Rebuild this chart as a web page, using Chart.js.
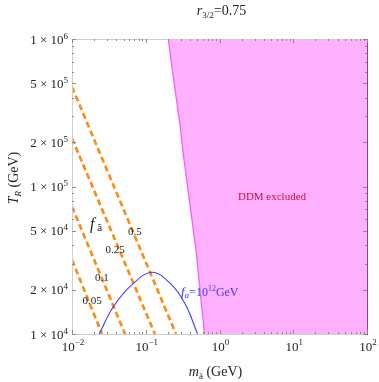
<!DOCTYPE html>
<html>
<head>
<meta charset="utf-8">
<script src="https://cdn.jsdelivr.net/npm/chart.js@4/dist/chart.umd.min.js"></script>
<style>
html,body{margin:0;padding:0;background:#fff;}
#wrap{width:379px;height:382px;}
</style>
</head>
<body>
<div id="wrap"><canvas id="c" width="379" height="382"></canvas></div>
<script>
// ---- data ----
const xTickValues = [0.01, 0.1, 1, 10, 100];
const xTickExps = ['−2', '−1', '0', '1', '2'];
const yTickValues = [1e4, 2e4, 5e4, 1e5, 2e5, 5e5, 1e6];
const yTickMant = ['1', '2', '5', '1', '2', '5', '1'];
const yTickExps = ['4', '4', '4', '5', '5', '5', '6'];

// f_a fraction lines (straight in log-log): T at m=0.01 and m where T=1e4
const fracLabels = ['0.05', '0.1', '0.25', '0.5'];
const fracStartM = [0.01, 0.01, 0.01, 0.01];
const fracStartT = [3.18e4, 7.3e4, 2.12e5, 4.73e5];
const fracEndM = [0.0255, 0.0524, 0.133, 0.257];
const fracEndT = [1e4, 1e4, 1e4, 1e4];

// f_a = 10^12 GeV curve
const axionM = [0.0234, 0.0363, 0.0646, 0.1205, 0.213, 0.340, 0.50];
const axionT = [1.0e4, 1.53e4, 2.15e4, 2.62e4, 2.21e4, 1.61e4, 1.01e4];

// DDM excluded boundary
const ddmM = [0.2023, 0.2198, 0.2978, 0.317, 0.480, 0.626];
const ddmT = [1e6, 7.21e5, 2.41e5, 1.77e5, 3.71e4, 1e4];
const ddmRightM = 100;

// ---- build datasets ----
const SERIF = '"Liberation Serif", "Times New Roman", serif';
const ORANGE = '#ff8a12';
const datasets = [];

// magenta fill region (fill to top of plot)
const fillPts = ddmM.map((m, i) => ({x: m, y: ddmT[i]}));
fillPts.push({x: ddmRightM, y: ddmT[ddmT.length - 1]});
datasets.push({
  data: fillPts, showLine: true, fill: 'end', backgroundColor: 'rgb(255,176,255)',
  borderWidth: 0, borderColor: 'rgba(0,0,0,0)', pointRadius: 0, tension: 0, clip: 0, order: 5
});
datasets.push({
  data: ddmM.map((m, i) => ({x: m, y: ddmT[i]})), showLine: true, fill: false,
  borderColor: 'rgb(255,90,255)', borderWidth: 1.3, pointRadius: 0, tension: 0, clip: 0, order: 4
});
fracLabels.forEach((lab, i) => {
  datasets.push({
    data: [{x: fracStartM[i], y: fracStartT[i]}, {x: fracEndM[i], y: fracEndT[i]}],
    showLine: true, fill: false, borderColor: ORANGE, borderWidth: 2.6,
    borderDash: [6, 3.5], pointRadius: 0, clip: 0, order: 2
  });
});
datasets.push({
  data: axionM.map((m, i) => ({x: m, y: axionT[i]})), showLine: true, fill: false,
  borderColor: '#3b3bff', borderWidth: 1.1, pointRadius: 0, tension: 0.4,
  cubicInterpolationMode: 'default', clip: 0, order: 1
});

function runs(ctx, x, y, parts, align) {
  let w = 0;
  parts.forEach(p => { ctx.font = p.f; p.w = ctx.measureText(p.t).width; w += p.w; });
  let cx = align === 'right' ? x - w : align === 'center' ? x - w / 2 : x;
  parts.forEach(p => {
    ctx.font = p.f; if (p.c) ctx.fillStyle = p.c;
    ctx.fillText(p.t, cx, y + (p.dy || 0)); cx += p.w;
  });
  return w;
}

const decor = {
  id: 'decor',
  afterDatasetsDraw(chart) {
    const ctx = chart.ctx, a = chart.chartArea;
    const xs = chart.scales.x, ys = chart.scales.y;
    ctx.save();
    // frame
    ctx.lineWidth = 1;
    ctx.strokeStyle = '#cfcfcf';
    ctx.beginPath();
    ctx.moveTo(a.left + 0.5, a.top + 0.5); ctx.lineTo(a.left + 0.5, a.bottom + 0.5);
    ctx.lineTo(a.right, a.bottom + 0.5);
    ctx.moveTo(a.left, a.top + 0.5); ctx.lineTo(a.right, a.top + 0.5);
    ctx.stroke();
    ctx.strokeStyle = '#8e3f8e';
    ctx.beginPath(); ctx.moveTo(a.right + 0.5, a.top); ctx.lineTo(a.right + 0.5, a.bottom + 1); ctx.stroke();

    // ticks
    ctx.strokeStyle = '#8a8a8a';
    ctx.beginPath();
    for (let d = -2; d <= 2; d++) {
      for (let k = 1; k <= 9; k++) {
        const v = k * Math.pow(10, d);
        if (v > 100.0001) break;
        const px = Math.round(xs.getPixelForValue(v)) + 0.5;
        const len = k === 1 ? 4 : 2;
        ctx.moveTo(px, a.bottom); ctx.lineTo(px, a.bottom - len);
        ctx.moveTo(px, a.top); ctx.lineTo(px, a.top + len);
      }
    }
    for (let d = 4; d <= 6; d++) {
      for (let k = 1; k <= 9; k++) {
        const v = k * Math.pow(10, d);
        if (v > 1e6 + 1) break;
        const py = Math.round(ys.getPixelForValue(v)) + 0.5;
        const len = (k === 1 || k === 2 || k === 5) ? 4 : 2;
        ctx.moveTo(a.left, py); ctx.lineTo(a.left + len, py);
        ctx.moveTo(a.right, py); ctx.lineTo(a.right - len, py);
      }
    }
    ctx.stroke();

    ctx.fillStyle = '#222';
    ctx.textBaseline = 'alphabetic';
    // y tick labels
    yTickValues.forEach((v, i) => {
      const py = ys.getPixelForValue(v);
      runs(ctx, 68, py + 4.5, [
        {t: yTickMant[i] + ' × 10', f: '13px ' + SERIF},
        {t: yTickExps[i], f: '9px ' + SERIF, dy: -5}
      ], 'right');
    });
    // x tick labels
    xTickValues.forEach((v, i) => {
      const px = xs.getPixelForValue(v);
      runs(ctx, px + 1, 351, [
        {t: '10', f: '13px ' + SERIF},
        {t: xTickExps[i], f: '9px ' + SERIF, dy: -6}
      ], 'center');
    });
    // x axis title
    runs(ctx, (a.left + a.right) / 2 - 4, 376, [
      {t: 'm', f: 'italic 14px ' + SERIF},
      {t: 'ã', f: '9px ' + SERIF, dy: 3},
      {t: ' (GeV)', f: '14px ' + SERIF}
    ], 'center');
    // y axis title
    ctx.save();
    ctx.translate(18, 178);
    ctx.rotate(-Math.PI / 2);
    runs(ctx, 0, 0, [
      {t: 'T', f: 'italic 14px ' + SERIF},
      {t: 'R', f: 'italic 9px ' + SERIF, dy: 3},
      {t: ' (GeV)', f: '14px ' + SERIF}
    ], 'center');
    ctx.restore();
    // plot title
    runs(ctx, (a.left + a.right) / 2 + 2, 15, [
      {t: 'r', f: 'italic 14px ' + SERIF},
      {t: '3/2', f: '9px ' + SERIF, dy: 3},
      {t: '=0.75', f: '14px ' + SERIF}
    ], 'center');

    // annotations
    const P = (m, T) => [xs.getPixelForValue(m), ys.getPixelForValue(T)];
    ctx.fillStyle = '#222';
    const fracPos = [[0.0187, 1.70e4], [0.0255, 2.43e4], [0.0383, 3.77e4], [0.0714, 4.99e4]];
    ctx.font = '11px ' + SERIF;
    ctx.textAlign = 'center';
    fracLabels.forEach((lab, i) => {
      const [px, py] = P(fracPos[i][0], fracPos[i][1]);
      ctx.fillText(lab, px, py + 4);
    });
    ctx.textAlign = 'left';
    let [fx, fy] = P(0.01754, 5.57e4);
    runs(ctx, fx, fy + 5, [
      {t: 'f', f: 'italic 16px ' + SERIF},
      {t: ' ã', f: '11px ' + SERIF, dy: 2}
    ], 'left');
    [fx, fy] = P(0.3006, 1.93e4);
    ctx.fillStyle = '#3b3bff';
    runs(ctx, fx, fy + 4, [
      {t: 'f', f: 'italic 13px ' + SERIF},
      {t: 'a', f: 'italic 9px ' + SERIF, dy: 2},
      {t: '=10', f: '12px ' + SERIF},
      {t: '12', f: '8px ' + SERIF, dy: -5},
      {t: 'GeV', f: '12px ' + SERIF}
    ], 'left');
    [fx, fy] = P(5.15, 8.63e4);
    ctx.fillStyle = '#c0143c';
    runs(ctx, fx, fy + 4, [{t: 'DDM excluded', f: '11px ' + SERIF}], 'center');
    ctx.restore();
  }
};

new Chart(document.getElementById('c'), {
  type: 'scatter',
  data: {datasets},
  options: {
    responsive: false, animation: false, devicePixelRatio: 1,
    layout: {padding: {left: 0, right: 12, top: 39, bottom: 0}},
    plugins: {legend: {display: false}, tooltip: {enabled: false}, title: {display: false}},
    scales: {
      x: {
        type: 'logarithmic', min: 0.01, max: 100,
        ticks: {display: false}, grid: {display: false}, border: {display: false},
        afterFit: s => { s.height = 48; }
      },
      y: {
        type: 'logarithmic', min: 1e4, max: 1e6,
        ticks: {display: false}, grid: {display: false}, border: {display: false},
        afterFit: s => { s.width = 72; }
      }
    }
  },
  plugins: [decor]
});
</script>
</body>
</html>
